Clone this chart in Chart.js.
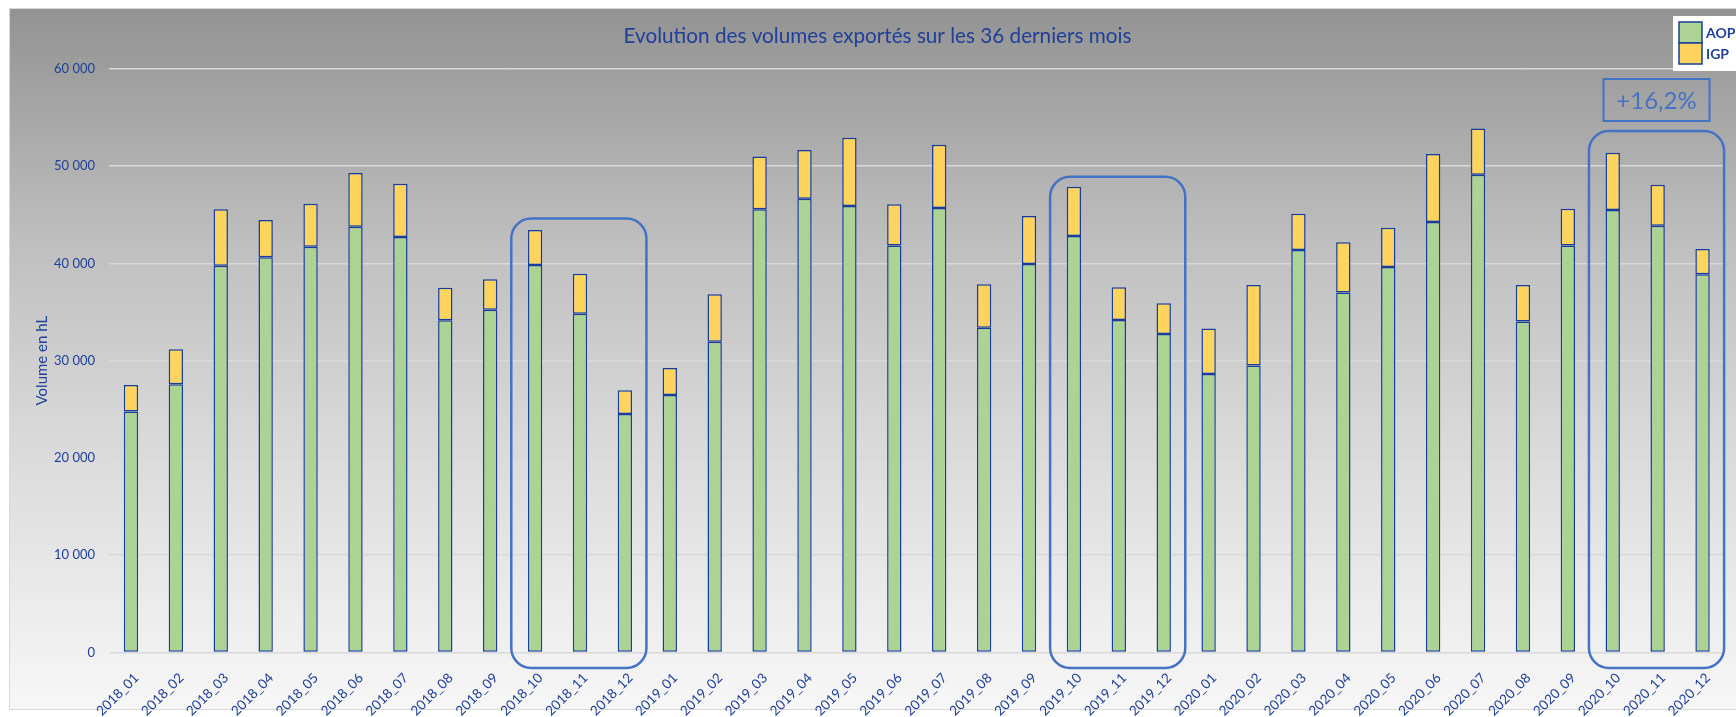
<!DOCTYPE html>
<html lang="fr">
<head>
<meta charset="utf-8">
<title>Evolution des volumes exportés sur les 36 derniers mois</title>
<script src="https://cdn.jsdelivr.net/npm/chart.js@4.4.1/dist/chart.umd.min.js"></script>
<style>
    html, body { margin: 0; padding: 0; background: #fff; }
    #wrap { position: relative; width: 1736px; height: 717px; overflow: hidden; }
    /* Excel-like grey gradient chart background */
    #bg {
        position: absolute; left: 9px; top: 8px; width: 1727px; height: 702px;
        box-sizing: border-box; border: 1px solid #d9d9d9; border-right: none;
        background: linear-gradient(to bottom, #939393 0%, #c0c0c0 34.5%, #d9d9d9 61.5%, #f7f7f7 100%);
    }
    #chart { position: absolute; left: 0; top: 0; }
</style>
</head>
<body>
<div id="wrap">
    <div id="bg"></div>
    <canvas id="chart" width="1736" height="717"></canvas>
</div>
<script>
// Months on the x axis
const months = [
    "2018_01", "2018_02", "2018_03", "2018_04", "2018_05", "2018_06",
    "2018_07", "2018_08", "2018_09", "2018_10", "2018_11", "2018_12",
    "2019_01", "2019_02", "2019_03", "2019_04", "2019_05", "2019_06",
    "2019_07", "2019_08", "2019_09", "2019_10", "2019_11", "2019_12",
    "2020_01", "2020_02", "2020_03", "2020_04", "2020_05", "2020_06",
    "2020_07", "2020_08", "2020_09", "2020_10", "2020_11", "2020_12",
];

// Exported volumes in hL
const aop = [
    24760, 27570, 39760, 40620, 41710, 43770, 42710, 34140, 35240, 39830, 34830, 24520,
    26470, 31950, 45550, 46640, 45890, 41820, 45690, 33390, 39930, 42810, 34180, 32740,
    28630, 29490, 41370, 36990, 39620, 44250, 49110, 34010, 41820, 45480, 43870, 38870,
];
const igp = [
    2740, 3590, 5790, 3830, 4420, 5510, 5480, 3360, 3120, 3600, 4110, 2430,
    2780, 4870, 5440, 5000, 7020, 4240, 6500, 4450, 4930, 5070, 3350, 3150,
    4660, 8280, 3730, 5170, 4040, 6980, 4760, 3760, 3800, 5890, 4210, 2600,
];

// y axis range
const yMax = 60000;
const yStep = 10000;

// Rounded boxes highlighting the last quarter of each year
const highlights = [
    { from: "2018_10", to: "2018_12", top: 44600 },
    { from: "2019_10", to: "2019_12", top: 48900 },
    { from: "2020_10", to: "2020_12", top: 53600, note: "+16,2%" },
];
const boxBottom = -1600;

const textBlue = "#1f3f99";
const boxBlue = "#4472c4";
const fontFamily = "Lato, 'Open Sans', sans-serif";

// Format 60000 -> "60 000"
function fmt(v) {
    return String(v).replace(/\B(?=(\d{3})+(?!\d))/g, " ");
}

// Draw the highlight boxes, the "+16,2%" label and the legend
const overlayPlugin = {
    id: "overlay",
    afterDraw(chart) {
        const { ctx } = chart;
        const x = chart.scales.x;
        const y = chart.scales.y;
        ctx.save();

        highlights.forEach((h) => {
            const i0 = months.indexOf(h.from);
            const i1 = months.indexOf(h.to);
            const left = x.getPixelForValue(i0 - 0.53);
            const right = x.getPixelForValue(i1 + 0.48);
            const top = y.getPixelForValue(h.top);
            const bottom = y.getPixelForValue(boxBottom);
            ctx.beginPath();
            ctx.roundRect(left, top, right - left, bottom - top, 20);
            ctx.strokeStyle = boxBlue;
            ctx.lineWidth = 2.5;
            ctx.stroke();

            if (h.note) {
                const cx = (left + right) / 2;
                const w = 106, hgt = 42;
                const nb = top - 10;
                ctx.lineWidth = 2;
                ctx.strokeRect(cx - w / 2, nb - hgt, w, hgt);
                ctx.fillStyle = boxBlue;
                ctx.font = `24px ${fontFamily}`;
                ctx.textAlign = "center";
                ctx.textBaseline = "middle";
                ctx.fillText(h.note, cx, nb - hgt / 2 + 1);
            }
        });

        // Legend box in the top-right corner
        const lx = chart.width - 63;
        const ly = 16;
        ctx.fillStyle = "#ffffff";
        ctx.fillRect(lx, ly, 63, 55);
        chart.data.datasets.forEach((ds, i) => {
            const sy = ly + 6 + i * 21;
            ctx.fillStyle = ds.backgroundColor;
            ctx.fillRect(lx + 6, sy, 23, 21);
            ctx.strokeStyle = ds.borderColor;
            ctx.lineWidth = 1.5;
            ctx.strokeRect(lx + 6, sy, 23, 21);
            ctx.fillStyle = textBlue;
            ctx.font = `bold 14px ${fontFamily}`;
            ctx.textAlign = "left";
            ctx.textBaseline = "middle";
            ctx.fillText(ds.label, lx + 33, sy + 11);
        });

        ctx.restore();
    },
};

new Chart(document.getElementById("chart"), {
    type: "bar",
    data: {
        labels: months,
        datasets: [
            {
                label: "AOP",
                data: aop,
                backgroundColor: "#add394",
                borderColor: "#173e9b",
                borderWidth: 1.5,
                borderSkipped: false,
                barPercentage: 0.32,
                categoryPercentage: 1,
            },
            {
                label: "IGP",
                data: igp,
                backgroundColor: "#ffd45e",
                borderColor: "#173e9b",
                borderWidth: 1.5,
                borderSkipped: false,
                barPercentage: 0.32,
                categoryPercentage: 1,
            },
        ],
    },
    options: {
        responsive: false,
        animation: false,
        devicePixelRatio: 1,
        // left padding keeps the title centred like the original
        layout: { padding: { left: 30, right: 11, top: 0, bottom: 0 } },
        plugins: {
            legend: { display: false },
            tooltip: { enabled: false },
            title: {
                display: true,
                text: "Evolution des volumes exportés sur les 36 derniers mois",
                color: textBlue,
                font: { family: fontFamily, size: 20.7, weight: "normal" },
                padding: { top: 24, bottom: 19.9 },
            },
        },
        scales: {
            x: {
                stacked: true,
                grid: { display: false },
                border: { display: false },
                ticks: {
                    color: textBlue,
                    font: { family: fontFamily, size: 13.5 },
                    autoSkip: false,
                    minRotation: 45,
                    maxRotation: 45,
                    padding: 9.5,
                    labelOffset: 5.5,
                },
                afterFit(scale) {
                    scale.height = 64.5;
                },
            },
            y: {
                stacked: true,
                min: 0,
                max: yMax,
                grid: { color: "#d9d9d9", lineWidth: 1.5, drawTicks: false },
                border: { display: false },
                ticks: {
                    stepSize: yStep,
                    color: textBlue,
                    font: { family: fontFamily, size: 13 },
                    padding: 13.5,
                    callback: (v) => fmt(v),
                },
                title: {
                    display: true,
                    text: "Volume en hL",
                    color: textBlue,
                    font: { family: fontFamily, size: 15 },
                    padding: { top: 3, bottom: 0 },
                },
                afterFit(scale) {
                    scale.width = 78.5;
                },
            },
        },
    },
    plugins: [overlayPlugin],
});
</script>
</body>
</html>
